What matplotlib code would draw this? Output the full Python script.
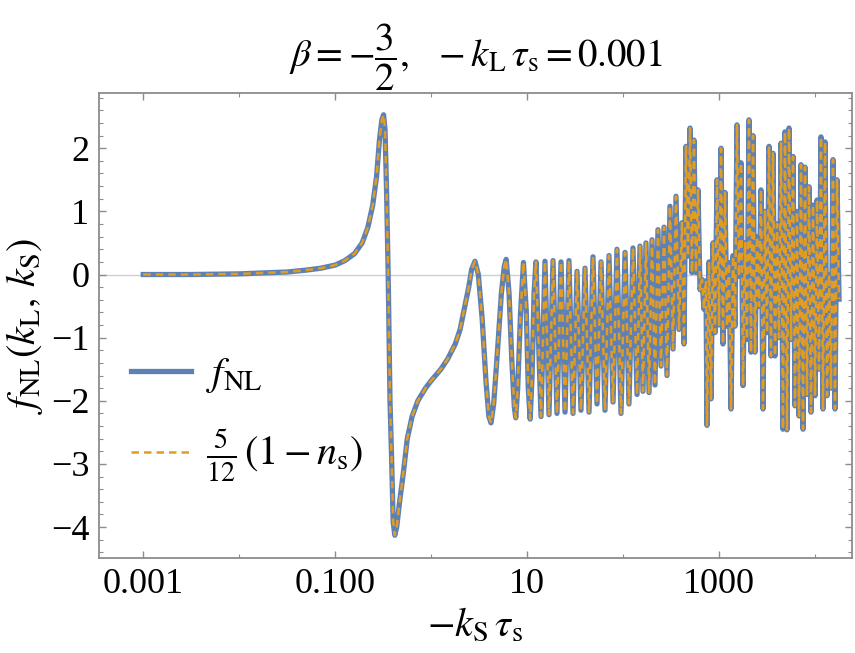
import numpy as np
import matplotlib.pyplot as plt
from matplotlib.lines import Line2D
from matplotlib.ticker import FixedLocator, NullFormatter

plt.rcParams['font.family'] = ['Liberation Serif', 'DejaVu Serif']
plt.rcParams['mathtext.fontset'] = 'stix'

# log10(-k_S tau_s) and f_NL
# smooth part (before the fast oscillations)
log_k_smooth = [-3.0, -2.5, -2.0, -1.5, -1.3, -1.15, -1.0, -0.9, -0.8, -0.72,
                -0.66, -0.61, -0.57, -0.54, -0.515, -0.497, -0.482, -0.466, -0.449,
                -0.43, -0.414, -0.397, -0.38, -0.36, -0.33, -0.29, -0.25, -0.2,
                -0.14, -0.06, 0.0, 0.1, 0.17, 0.25, 0.3, 0.35, 0.39, 0.42, 0.455,
                0.49, 0.53, 0.57, 0.6, 0.622, 0.65, 0.69, 0.73, 0.76, 0.78, 0.81,
                0.84, 0.865, 0.88, 0.9, 0.93, 0.96, 0.99, 1.01, 1.03, 1.05, 1.07,
                1.09]
fnl_smooth = [0.0, 0.0, 0.01, 0.04, 0.07, 0.1, 0.15, 0.22, 0.33, 0.5,
              0.75, 1.1, 1.55, 2.13, 2.45, 2.53, 2.3, 1.34, 0.0,
              -2.0, -2.87, -3.92, -4.13, -4.0, -3.6, -3.13, -2.6, -2.25,
              -2.0, -1.8, -1.68, -1.5, -1.34, -1.1, -0.87, -0.5, -0.2, 0.08, 0.21,
              0.0, -0.7, -1.7, -2.25, -2.35, -2.05, -1.2, -0.3, 0.13, 0.24, -0.3,
              -1.4, -2.1, -2.27, -1.8, -0.6, 0.19, -0.6, -1.8, -2.29, -1.6, -0.3,
              0.2]

# fast oscillating part: alternating maxima / minima
log_k_osc = [1.143, 1.184, 1.226, 1.268, 1.309, 1.351, 1.393, 1.434, 1.476, 1.518,
             1.559, 1.601, 1.643, 1.684, 1.726, 1.768, 1.809, 1.851, 1.893, 1.934,
             1.976, 2.018, 2.059, 2.101, 2.143, 2.174, 2.205, 2.236, 2.268, 2.299,
             2.330, 2.361, 2.393, 2.424, 2.455, 2.486, 2.518, 2.549, 2.580, 2.611,
             2.632, 2.653, 2.674, 2.695, 2.715, 2.736, 2.757, 2.778, 2.799, 2.820,
             2.840, 2.861, 2.872, 2.893, 2.913, 2.934, 2.955, 2.976, 2.997, 3.018,
             3.038, 3.059, 3.080, 3.101, 3.122, 3.143, 3.163, 3.184, 3.205, 3.226,
             3.247, 3.268, 3.288, 3.309, 3.330, 3.351, 3.372, 3.393, 3.413, 3.434,
             3.455, 3.476, 3.497, 3.518, 3.538, 3.559, 3.580, 3.601, 3.622, 3.643,
             3.663, 3.684, 3.705, 3.726, 3.747, 3.768, 3.788, 3.809, 3.830, 3.851,
             3.872, 3.893, 3.913, 3.934, 3.955, 3.976, 3.997, 4.018, 4.038, 4.059,
             4.080, 4.101, 4.122, 4.143, 4.163, 4.184, 4.205, 4.226, 4.247]
fnl_osc = [-2.25, 0.21, -2.22, 0.22, -2.20, 0.20, -2.18, 0.22, -2.20, 0.05,
           -2.15, 0.10, -2.18, 0.28, -2.05, 0.20, -2.15, 0.30, -2.02, 0.40,
           -2.20, 0.35, -2.05, 0.42, -1.90, 0.45, -1.85, 0.50, -1.87, 0.55,
           -1.75, 0.71, -1.45, 0.75, -1.60, 1.08, -1.18, 1.24, -0.87, 0.82,
           -1.10, 2.03, 0.29, 2.32, 0.03, 2.13, 0.03, 1.34, -0.24, -0.08,
           -0.55, -0.10, -2.39, 0.20, -1.97, 0.50, -0.92, 1.50, -0.80, 2.00,
           -1.10, 1.30, -0.82, 0.19, -2.13, 0.30, -0.82, 2.37, -0.03, 1.77,
           -1.76, 0.50, -1.03, 2.45, -1.23, 2.20, -1.23, 0.60, -0.50, 1.34,
           -2.13, 1.00, -0.92, 2.03, -1.29, 1.92, -1.29, 0.80, -1.00, 2.08,
           -2.45, 2.26, -2.46, 2.32, -1.03, 1.87, -2.08, 1.00, -2.24, 1.74,
           -2.45, 1.70, -1.90, 1.39, -2.18, 1.10, -1.92, 1.18, -1.50, 2.18,
           -2.13, 2.10, -1.92, 0.00, -1.80, 1.82, -2.13, 1.50, -0.39]

x_major = [0.001, 0.1, 10, 1000]
x_major_labels = ['0.001', '0.100', '10', '1000']
x_minor = [0.01, 1, 100, 10000]
y_major = [-4, -3, -2, -1, 0, 1, 2]

blue = '#5E81B5'
orange = '#E19C24'

ks = 10 ** np.array(log_k_smooth + log_k_osc)
fnl = np.array(fnl_smooth + fnl_osc)

fig = plt.figure(figsize=(8.55, 6.53), dpi=100)
ax = fig.add_axes([99 / 855, 1 - 558.3 / 653, (852 - 99) / 855, (558.3 - 93) / 653])

ax.axhline(0, color='#cfcfcf', lw=1.0, zorder=0)
ax.plot(ks, fnl, color=blue, lw=3.8, solid_joinstyle='round', zorder=2)
ax.plot(ks, fnl, color=orange, lw=1.8, ls=(0, (3.0, 2.0)), zorder=3)

ax.set_xscale('log')
ax.set_xlim(10 ** -3.461, 10 ** 4.382)
ax.set_ylim(-4.495, 2.875)

ax.xaxis.set_major_locator(FixedLocator(x_major))
ax.set_xticklabels(x_major_labels)
ax.xaxis.set_minor_locator(FixedLocator(x_minor))
ax.xaxis.set_minor_formatter(NullFormatter())
ax.yaxis.set_major_locator(FixedLocator(y_major))
ax.set_yticklabels([str(v).replace('-', '\u2212') for v in y_major])
ax.yaxis.set_minor_locator(FixedLocator(np.arange(-4.4, 2.81, 0.2)))

spine_col = '#8c8c8c'
for s in ax.spines.values():
    s.set_color(spine_col)
    s.set_linewidth(1.3)
ax.tick_params(which='both', direction='in', top=True, right=True,
               color=spine_col, labelsize=26, pad=7)
ax.tick_params(which='major', length=5, width=1.0)
ax.tick_params(which='minor', length=3, width=0.8)

ax.set_title(r'$\beta = -\dfrac{3}{2},\ \ -k_{\mathrm{L}}\,\tau_{\mathrm{s}} = 0.001$',
             fontsize=28, pad=10)
ax.set_xlabel(r'$-k_{\mathrm{S}}\,\tau_{\mathrm{s}}$', fontsize=29, labelpad=4)
ax.set_ylabel(r'$f_{\mathrm{NL}}(k_{\mathrm{L}},\,k_{\mathrm{S}})$', fontsize=29, labelpad=4)

handles = [Line2D([], [], color=blue, lw=3.8),
           Line2D([], [], color=orange, lw=1.8, ls=(0, (3.0, 2.0)))]
labels = [r'$f_{\mathrm{NL}}$', r'$\frac{5}{12}\,(1 - n_{\mathrm{s}})$']
ax.legend(handles, labels, loc='upper left', bbox_to_anchor=(131 / 855, 1 - 356 / 653),
          bbox_transform=fig.transFigure, frameon=False, fontsize=29,
          handlelength=1.5, handletextpad=0.35, labelspacing=0.8, borderpad=0,
          borderaxespad=0)

fig.savefig('out.png', dpi=100)
